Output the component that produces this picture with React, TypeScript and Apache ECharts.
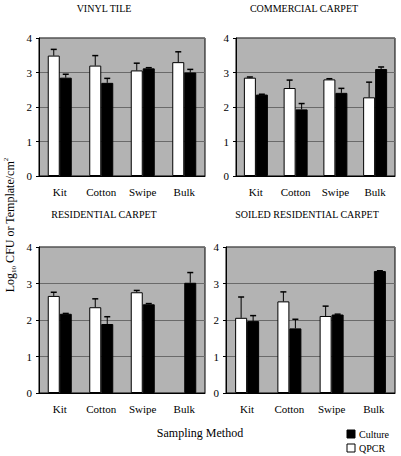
import React, { useEffect, useRef } from "react";
import * as echarts from "echarts";

const categories = ["Kit", "Cotton", "Swipe", "Bulk"];
const panelTitles = ["VINYL TILE", "COMMERCIAL CARPET", "RESIDENTIAL CARPET", "SOILED RESIDENTIAL CARPET"];
const yTicks = [0, 1, 2, 3, 4];

// QPCR (white) and Culture (black) means, with upper error-bar ends
const vinylQpcr = [3.49, 3.2, 3.06, 3.3];
const vinylQpcrTop = [3.67, 3.49, 3.27, 3.6];
const vinylCulture = [2.85, 2.7, 3.12, 3.0];
const vinylCultureTop = [2.95, 2.83, 3.14, 3.09];

const commercialQpcr = [2.85, 2.55, 2.8, 2.28];
const commercialQpcrTop = [2.87, 2.78, 2.82, 2.72];
const commercialCulture = [2.36, 1.93, 2.41, 3.1];
const commercialCultureTop = [2.37, 2.1, 2.54, 3.16];

const residentialQpcr = [2.66, 2.35, 2.76, null];
const residentialQpcrTop = [2.76, 2.58, 2.81, null];
const residentialCulture = [2.17, 1.89, 2.43, 3.02];
const residentialCultureTop = [2.18, 2.09, 2.45, 3.3];

const soiledQpcr = [2.06, 2.51, 2.11, null];
const soiledQpcrTop = [2.63, 2.77, 2.38, null];
const soiledCulture = [1.97, 1.77, 2.15, 3.34];
const soiledCultureTop = [2.12, 2.02, 2.16, 3.35];

const panels = [
  { qpcr: vinylQpcr, qpcrTop: vinylQpcrTop, culture: vinylCulture, cultureTop: vinylCultureTop },
  { qpcr: commercialQpcr, qpcrTop: commercialQpcrTop, culture: commercialCulture, cultureTop: commercialCultureTop },
  { qpcr: residentialQpcr, qpcrTop: residentialQpcrTop, culture: residentialCulture, cultureTop: residentialCultureTop },
  { qpcr: soiledQpcr, qpcrTop: soiledQpcrTop, culture: soiledCulture, cultureTop: soiledCultureTop },
];

const gridBoxes = [
  { left: 39, top: 38, width: 166, height: 138 },
  { left: 236, top: 38, width: 159, height: 138 },
  { left: 39, top: 247, width: 166, height: 146 },
  { left: 226, top: 247, width: 169, height: 146 },
];
const titlePos = [
  { x: 104, y: 8 },
  { x: 304, y: 8 },
  { x: 104, y: 214 },
  { x: 307, y: 214 },
];

const FONT = "'Liberation Serif', 'Times New Roman', 'DejaVu Serif', serif";
const BAR_W = 12;

function errorSeries(gridIdx: number, values: (number | null)[], tops: (number | null)[], offset: number) {
  const data = values
    .map((v, i) => (v == null || tops[i] == null ? null : [i, v, tops[i]]))
    .filter((d) => d !== null);
  return {
    type: "custom",
    xAxisIndex: gridIdx,
    yAxisIndex: gridIdx,
    silent: true,
    z: 5,
    encode: { x: 0, y: 1 },
    data,
    renderItem: (params: any, api: any) => {
      const base = api.coord([api.value(0), api.value(1)]);
      const top = api.coord([api.value(0), api.value(2)]);
      const x = base[0] + offset;
      const style = { stroke: "#000", lineWidth: 1 };
      return {
        type: "group",
        children: [
          { type: "line", shape: { x1: x, y1: base[1], x2: x, y2: top[1] }, style },
          { type: "line", shape: { x1: x - 3, y1: top[1], x2: x + 3, y2: top[1] }, style: { stroke: "#000", lineWidth: 1.5 } },
        ],
      };
    },
  };
}

export default function App() {
  const ref = useRef<HTMLDivElement>(null);
  useEffect(() => {
    if (!ref.current) return;
    const chart = echarts.init(ref.current, null, { renderer: "svg" });
    const grid = gridBoxes.map((g) => ({
      ...g,
      show: true,
      backgroundColor: "#b3b3b3",
      borderColor: "#000",
      borderWidth: 1,
      containLabel: false,
    }));
    const xAxis = gridBoxes.map((_, i) => ({
      type: "category",
      gridIndex: i,
      data: categories,
      axisLine: { show: true, lineStyle: { color: "#000", width: 1 } },
      axisTick: { show: false },
      axisLabel: { color: "#000", fontFamily: FONT, fontSize: 11, margin: 10 },
    }));
    const yAxis = gridBoxes.map((_, i) => ({
      type: "value",
      gridIndex: i,
      min: yTicks[0],
      max: yTicks[yTicks.length - 1],
      interval: 1,
      axisLine: { show: true, lineStyle: { color: "#000", width: 1 } },
      axisTick: { show: true, length: 3, lineStyle: { color: "#000" } },
      axisLabel: { color: "#000", fontFamily: FONT, fontSize: 11, margin: 7 },
      splitLine: { show: true, lineStyle: { color: "#6a6a6a", width: 1 } },
    }));
    const series: any[] = [];
    panels.forEach((p, i) => {
      series.push({
        type: "bar",
        name: "QPCR",
        xAxisIndex: i,
        yAxisIndex: i,
        data: p.qpcr,
        barWidth: BAR_W,
        barGap: "0%",
        itemStyle: { color: "#fff", borderColor: "#000", borderWidth: 1 },
      });
      series.push({
        type: "bar",
        name: "Culture",
        xAxisIndex: i,
        yAxisIndex: i,
        data: p.culture,
        barWidth: BAR_W,
        barGap: "0%",
        itemStyle: { color: "#000", borderColor: "#000", borderWidth: 1 },
      });
      series.push(errorSeries(i, p.qpcr, p.qpcrTop, -BAR_W / 2));
      series.push(errorSeries(i, p.culture, p.cultureTop, BAR_W / 2));
    });

    const graphic: any[] = panelTitles.map((t, i) => ({
      type: "text",
      x: titlePos[i].x,
      y: titlePos[i].y,
      style: {
        text: t,
        fontFamily: FONT,
        fontSize: 10,
        fill: "#000",
        align: "center",
        verticalAlign: "middle",
      },
    }));
    graphic.push({
      type: "text",
      x: 200,
      y: 433,
      style: {
        text: "Sampling Method",
        fontFamily: FONT,
        fontSize: 12,
        fill: "#000",
        align: "center",
        verticalAlign: "middle",
      },
    });
    graphic.push({
      type: "text",
      x: 10,
      y: 225,
      rotation: Math.PI / 2,
      style: {
        text: "{n|Log}{sub|10}{n| CFU or Template/cm}{sup|2}",
        fontFamily: FONT,
        fontSize: 12,
        fill: "#000",
        align: "center",
        verticalAlign: "middle",
        rich: {
          n: { fontFamily: FONT, fontSize: 12, fill: "#000", lineHeight: 15 },
          sub: { fontFamily: FONT, fontSize: 7, fill: "#000", verticalAlign: "bottom", lineHeight: 15 },
          sup: { fontFamily: FONT, fontSize: 7, fill: "#000", verticalAlign: "top", lineHeight: 15 },
        },
      },
    });
    // legend
    graphic.push({ type: "rect", shape: { x: 347, y: 430, width: 8, height: 8 }, style: { fill: "#000", stroke: "#000" } });
    graphic.push({ type: "rect", shape: { x: 347, y: 444, width: 8, height: 8 }, style: { fill: "#fff", stroke: "#000", lineWidth: 1 } });
    graphic.push({
      type: "text",
      x: 359,
      y: 434,
      style: { text: "Culture", fontFamily: FONT, fontSize: 10, fill: "#000", align: "left", verticalAlign: "middle" },
    });
    graphic.push({
      type: "text",
      x: 359,
      y: 448,
      style: { text: "QPCR", fontFamily: FONT, fontSize: 10, fill: "#000", align: "left", verticalAlign: "middle" },
    });

    chart.setOption({
      animation: false,
      backgroundColor: "#fff",
      textStyle: { fontFamily: FONT },
      grid,
      xAxis,
      yAxis,
      series,
      graphic,
    });
    return () => chart.dispose();
  }, []);
  return (
    <div
      ref={ref}
      style={{ position: "absolute", left: 0, top: 0, width: 401, height: 456 }}
    />
  );
}
